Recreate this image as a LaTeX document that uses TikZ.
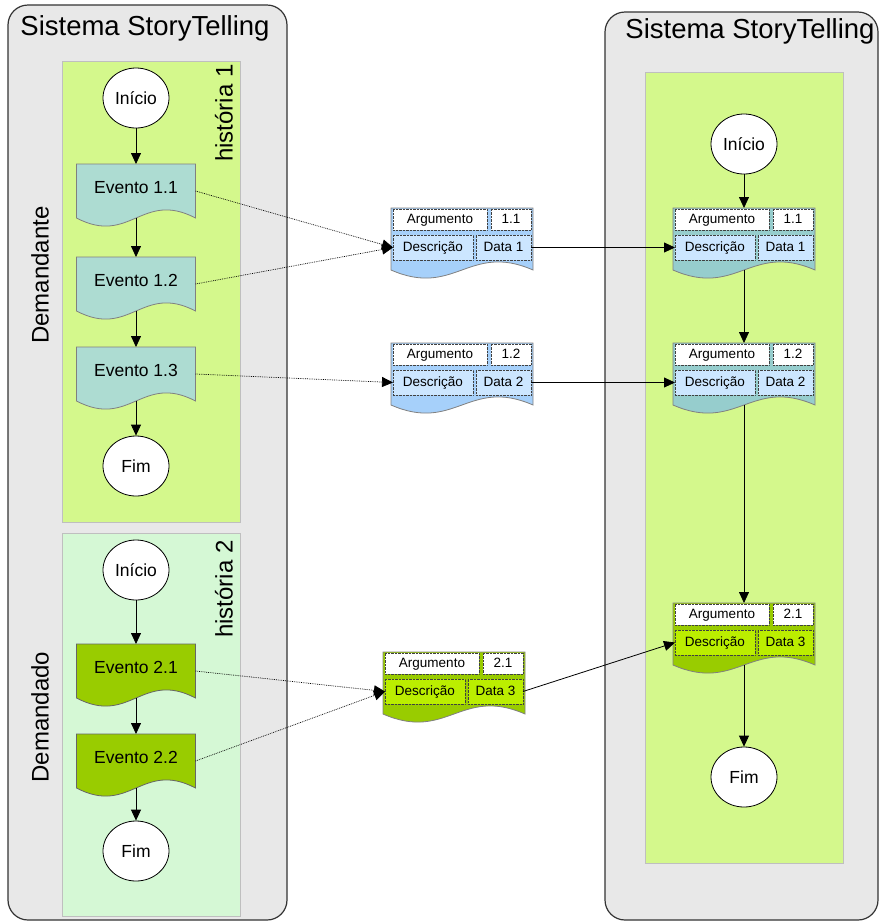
\documentclass[tikz,border=0pt]{standalone}
\usepackage{fontspec}
\setmainfont{Liberation Sans}
\usepackage{xcolor}
\usetikzlibrary{positioning, arrows.meta, shapes.geometric, calc}

\definecolor{painel}{HTML}{E8E8E8}
\definecolor{verdeh1}{HTML}{D4F88C}
\definecolor{verdeh2}{HTML}{D5F8D5}
\definecolor{azulev}{HTML}{ADDCD2}
\definecolor{verdeev}{HTML}{99CC00}
\definecolor{azulcarta}{HTML}{A6D0FA}
\definecolor{azulcampo}{HTML}{CCE6FF}
\definecolor{tealcarta}{HTML}{96CDCD}
\definecolor{limacampo}{HTML}{BBEE00}

\pgfdeclarelayer{fundo}
\pgfdeclarelayer{forma}
\pgfsetlayers{fundo,forma,main}

% document shape with wavy bottom, drawn behind the node
\newcommand{\onda}[2]{%
  \begin{pgfonlayer}{forma}
    \draw[#2] (#1.north west) -- (#1.north east) -- (#1.south east)
      .. controls ($(#1.south east)!0.45!(#1.south west)+(0,-28)$)
      and ($(#1.south west)!0.45!(#1.south east)+(0,28)$) .. (#1.south west) -- cycle;
  \end{pgfonlayer}}

% card: name, x, y, number, data, fill, field fill
\newcommand{\ficha}[7]{%
  \node[cartao] (#1) at (#2,#3) {};
  \onda{#1}{fill=#6, draw=gray, line width=0.8pt}
  \node[campo, fill=white, minimum width=94, minimum height=21] (#1arg) at (#2+2,#3+1) {Argumento};
  \node[campo, fill=white, minimum width=40, minimum height=21] (#1num) at (#2+100,#3+1) {#4};
  \node[campo, fill=#7, minimum width=80, minimum height=25] (#1desc) at (#2+2,#3+27) {Descrição};
  \node[campo, fill=#7, minimum width=55, minimum height=25] (#1data) at (#2+85,#3+27) {#5};
}

\begin{document}
\begin{tikzpicture}[x=1pt, y=-1pt,
    titulo/.style={font=\fontsize{27.5}{30}\selectfont},
    lado/.style={rotate=90, font=\fontsize{24}{28}\selectfont},
    terminal/.style={ellipse, draw, fill=white, line width=0.8pt, minimum width=66, minimum height=60, inner sep=0, font=\fontsize{17.5}{20}\selectfont},
    evento/.style={anchor=north, minimum width=119, minimum height=54, inner sep=0, outer sep=0, text height=12.5pt, text depth=8.5pt, font=\fontsize{17.5}{20}\selectfont},
    cartao/.style={anchor=north west, minimum width=142, minimum height=62, inner sep=0, outer sep=0},
    campo/.style={anchor=north west, draw=black!75, densely dotted, inner sep=0, outer sep=0, text height=9.5pt, text depth=2.5pt, font=\fontsize{13.5}{15}\selectfont},
    seta/.style={-{Triangle[length=11pt,width=10pt]}, line width=0.8pt},
    ligacao/.style={seta, densely dotted, line width=0.7pt}]

  \useasboundingbox (0,0) rectangle (879,922);

  % Panels
  \begin{pgfonlayer}{fundo}
    \draw[fill=painel, draw=black!80, line width=1.2pt, rounded corners=20] (8,5) rectangle (287,920);
    \draw[fill=painel, draw=black!80, line width=1.2pt, rounded corners=20] (605,12) rectangle (878,920);
    \draw[fill=verdeh1, draw=black!25] (62,61) rectangle (240,522);
    \draw[fill=verdeh2, draw=black!25] (62,533) rectangle (240,916);
    \draw[fill=verdeh1, draw=black!25] (645,72) rectangle (843,863);
  \end{pgfonlayer}

  \node[titulo, anchor=base] (tit1) at (145,35) {Sistema StoryTelling};
  \node[titulo, anchor=base] (tit2) at (750,38) {Sistema StoryTelling};
  \node[lado] (dem1) at (40,275) {Demandante};
  \node[lado] (dem2) at (40,717) {Demandado};
  \node[lado] (hist1) at (224,113) {história 1};
  \node[lado] (hist2) at (224,589) {história 2};

  % Story 1
  \node[terminal] (ini1) at (136,98) {Início};
  \node[evento] (ev11) at (136,164) {Evento 1.1};
  \node[evento] (ev12) at (136,257) {Evento 1.2};
  \node[evento] (ev13) at (136,347) {Evento 1.3};
  \node[terminal] (fim1) at (136,466) {Fim};
  \onda{ev11}{fill=azulev, draw=gray, line width=0.8pt}
  \onda{ev12}{fill=azulev, draw=gray, line width=0.8pt}
  \onda{ev13}{fill=azulev, draw=gray, line width=0.8pt}

  % Story 2
  \node[terminal] (ini2) at (136,570) {Início};
  \node[evento] (ev21) at (136,644) {Evento 2.1};
  \node[evento] (ev22) at (136,734) {Evento 2.2};
  \node[terminal] (fim2) at (136,851) {Fim};
  \onda{ev21}{fill=verdeev, draw=black!60, line width=0.8pt}
  \onda{ev22}{fill=verdeev, draw=black!60, line width=0.8pt}

  % Cards
  \ficha{cA}{391}{208}{1.1}{Data 1}{azulcarta}{azulcampo}
  \ficha{cB}{391}{343}{1.2}{Data 2}{azulcarta}{azulcampo}
  \ficha{cC}{383}{652}{2.1}{Data 3}{verdeev}{limacampo}

  % Resulting story
  \node[terminal] (ini3) at (744,144) {Início};
  \ficha{cD}{673}{208}{1.1}{Data 1}{tealcarta}{azulcampo}
  \ficha{cE}{673}{343}{1.2}{Data 2}{tealcarta}{azulcampo}
  \ficha{cF}{673}{603}{2.1}{Data 3}{verdeev}{limacampo}
  \node[terminal] (fim3) at (744,777) {Fim};

  % Flow
  \draw[seta] (ini1) -- (ev11);
  \draw[seta] (ev11) -- (ev12);
  \draw[seta] (ev12) -- (ev13);
  \draw[seta] (ev13) -- (fim1);
  \draw[seta] (ini2) -- (ev21);
  \draw[seta] (ev21) -- (ev22);
  \draw[seta] (ev22) -- (fim2);
  \draw[seta] (ini3) -- (cD);
  \draw[seta] (cD) -- (cE);
  \draw[seta] (cE) -- (cF);
  \draw[seta] (cF) -- (fim3);

  % Links to cards
  \draw[ligacao] (ev11.east) -- (cAdesc.west);
  \draw[ligacao] (ev12.east) -- (cAdesc.west);
  \draw[ligacao] (ev13.east) -- (cBdesc.west);
  \draw[ligacao] (ev21.east) -- (cCdesc.west);
  \draw[ligacao] (ev22.east) -- (cCdesc.west);
  \draw[seta] (cAdata.east) -- (cDdesc.west);
  \draw[seta] (cBdata.east) -- (cEdesc.west);
  \draw[seta] (cCdata.east) -- (cFdesc.west);
\end{tikzpicture}
\end{document}
